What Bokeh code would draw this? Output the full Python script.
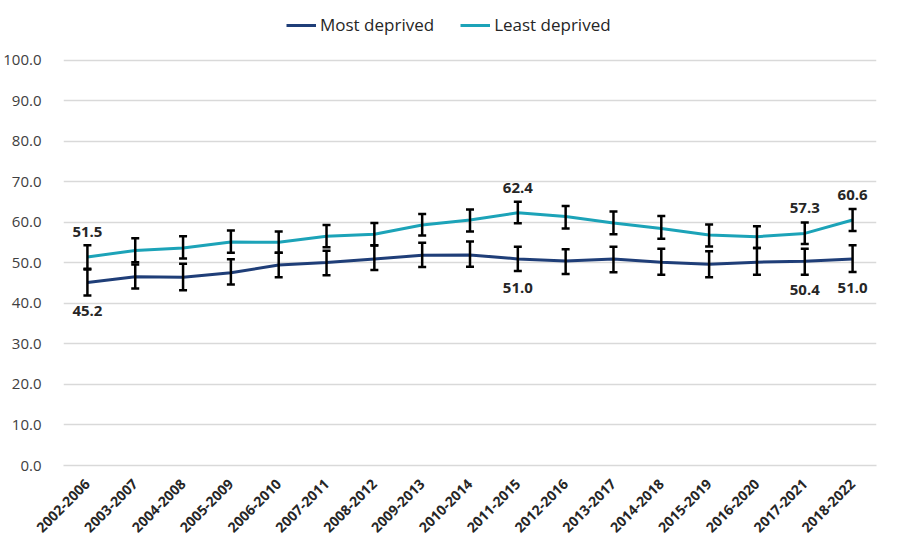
import math
from bokeh.plotting import figure
from bokeh.models import (ColumnDataSource, Whisker, TeeHead, Legend, LegendItem,
                          FixedTicker, NumeralTickFormatter, Range1d)
from bokeh.core.properties import value
from bokeh.embed import file_html
from bokeh.resources import INLINE

periods = ["2002-2006", "2003-2007", "2004-2008", "2005-2009", "2006-2010", "2007-2011",
           "2008-2012", "2009-2013", "2010-2014", "2011-2015", "2012-2016", "2013-2017",
           "2014-2018", "2015-2019", "2016-2020", "2017-2021", "2018-2022"]

most_deprived = [45.2, 46.6, 46.5, 47.6, 49.5, 50.1, 51.0, 51.9, 52.0, 51.0, 50.5, 51.0,
                 50.2, 49.7, 50.2, 50.4, 51.0]
most_lower = [42.0, 43.7, 43.3, 44.7, 46.5, 47.0, 48.3, 49.0, 49.1, 48.0, 47.3, 47.7,
              47.1, 46.5, 47.1, 47.1, 47.8]
most_upper = [48.4, 49.6, 49.8, 50.9, 52.5, 53.0, 54.4, 55.0, 55.3, 54.0, 53.4, 54.0,
              53.5, 52.9, 53.7, 53.5, 54.4]

least_deprived = [51.5, 53.1, 53.7, 55.2, 55.1, 56.6, 57.1, 59.4, 60.6, 62.4, 61.5, 59.9,
                  58.5, 56.9, 56.5, 57.3, 60.6]
least_lower = [48.6, 50.2, 51.1, 52.5, 52.5, 53.9, 54.3, 56.8, 57.8, 59.8, 58.5, 57.1,
               56.0, 54.1, 53.7, 54.7, 57.9]
least_upper = [54.4, 56.1, 56.6, 58.0, 57.8, 59.4, 59.9, 62.1, 63.2, 65.1, 64.1, 62.7,
               61.6, 59.5, 59.1, 60.0, 63.3]

labelled_points = [0, 9, 15, 16]

y_ticks = [0, 10, 20, 30, 40, 50, 60, 70, 80, 90, 100]

MOST_COLOR = "#1f3e78"
LEAST_COLOR = "#1ca3b8"
FONT = "Open Sans"

# frame extends above 100 to leave room for the legend (no ticks/grid above 100)
p = figure(width=882, height=540, x_range=periods, y_range=Range1d(0, 111.6),
           output_backend="svg", toolbar_location=None,
           min_border_left=57, min_border_right=6, min_border_top=13, min_border_bottom=74)
p.outline_line_color = None
p.background_fill_color = "white"
p.border_fill_color = "white"

src_most = ColumnDataSource(dict(x=periods, y=most_deprived, lo=most_lower, hi=most_upper))
src_least = ColumnDataSource(dict(x=periods, y=least_deprived, lo=least_lower, hi=least_upper))

r_most = p.line("x", "y", source=src_most, line_color=MOST_COLOR, line_width=3)
r_least = p.line("x", "y", source=src_least, line_color=LEAST_COLOR, line_width=3)

for src in (src_least, src_most):
    w = Whisker(source=src, base="x", lower="lo", upper="hi",
                line_color="black", line_width=2.5, level="annotation",
                upper_head=TeeHead(size=8, line_color="black", line_width=2.5),
                lower_head=TeeHead(size=8, line_color="black", line_width=2.5))
    p.add_layout(w)

lab_most = ColumnDataSource(dict(x=[periods[i] for i in labelled_points],
                                 y=[most_deprived[i] for i in labelled_points],
                                 t=["%.1f" % most_deprived[i] for i in labelled_points]))
lab_least = ColumnDataSource(dict(x=[periods[i] for i in labelled_points],
                                  y=[least_deprived[i] for i in labelled_points],
                                  t=["%.1f" % least_deprived[i] for i in labelled_points]))
p.text("x", "y", text="t", source=lab_least, y_offset=-25, text_align="center",
       text_baseline="middle", text_font=value(FONT), text_font_size="15px",
       text_font_style="bold", text_color="#262626")
p.text("x", "y", text="t", source=lab_most, y_offset=29, text_align="center",
       text_baseline="middle", text_font=value(FONT), text_font_size="15px",
       text_font_style="bold", text_color="#262626")

p.xgrid.grid_line_color = None
p.ygrid.grid_line_color = "#d9d9d9"
p.ygrid.grid_line_width = 1.5
p.yaxis.ticker = FixedTicker(ticks=y_ticks)
p.yaxis.formatter = NumeralTickFormatter(format="0.0")
p.yaxis.axis_line_color = None
p.yaxis.major_tick_line_color = None
p.yaxis.minor_tick_line_color = None
p.yaxis.major_label_standoff = 16
p.yaxis.major_label_text_font = FONT
p.yaxis.major_label_text_font_size = "15px"
p.yaxis.major_label_text_color = "#404040"

p.xaxis.axis_line_color = "#d9d9d9"
p.xaxis.axis_line_width = 1.5
p.xaxis.major_tick_line_color = None
p.xaxis.minor_tick_line_color = None
p.xaxis.major_label_orientation = math.pi / 4
p.xaxis.major_label_standoff = 10
p.xaxis.major_label_text_font = FONT
p.xaxis.major_label_text_font_size = "14px"
p.xaxis.major_label_text_font_style = "bold"
p.xaxis.major_label_text_color = "#262626"

legend = Legend(items=[LegendItem(label="Most deprived", renderers=[r_most]),
                       LegendItem(label="Least deprived", renderers=[r_least])],
                orientation="horizontal", location=(223, 429),
                border_line_color=None, background_fill_alpha=0,
                label_text_font=FONT, label_text_font_size="17px",
                label_text_color="#262626", glyph_width=30, label_standoff=4,
                spacing=26, padding=0, margin=0)
p.add_layout(legend)

open("out.html", "w").write(file_html(p, INLINE))
